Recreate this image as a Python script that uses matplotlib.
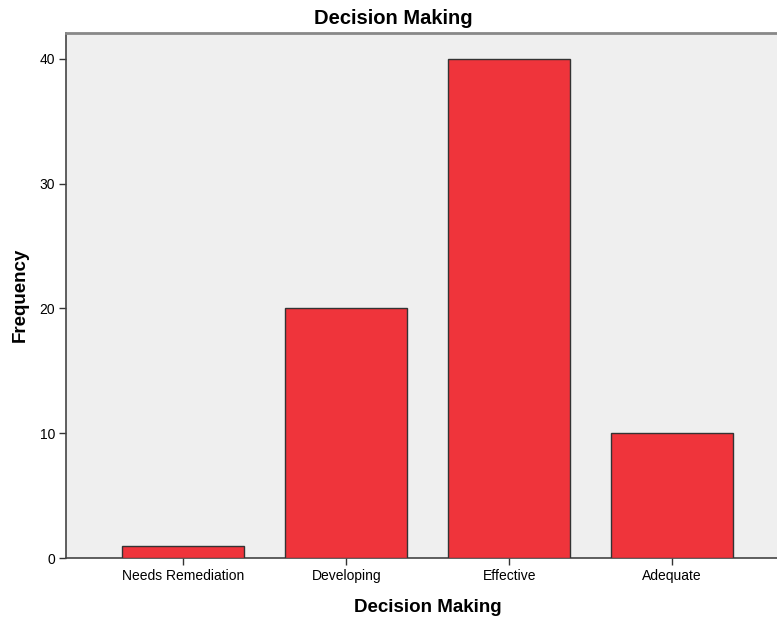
import matplotlib
matplotlib.use("Agg")
import matplotlib.pyplot as plt

categories = ["Needs Remediation", "Developing", "Effective", "Adequate"]
frequencies = [1, 20, 40, 10]
yticks = [0, 10, 20, 30, 40]

plt.rcParams['font.family'] = ['Liberation Sans', 'DejaVu Sans']

fig = plt.figure(figsize=(7.77, 6.2), dpi=100)
ax = fig.add_axes([66/777, 62/620, 1 - 66/777 + 0.002, (558-33)/620])
ax.set_facecolor('#EFEFEF')
x = list(range(len(categories)))
ax.bar(x, frequencies, width=0.75, color='#EF343B', edgecolor='#333333', linewidth=1.0, zorder=3)
ax.set_xlim(-0.719, 3.652)
ax.set_ylim(0, 42.08)
ax.set_xticks(x)
ax.set_xticklabels(categories, fontsize=10)
ax.set_yticks(yticks)
ax.set_yticklabels([str(v) for v in yticks], fontsize=10)
ax.tick_params(axis='both', direction='out', length=5, width=1, color='#333333', pad=3)
for s in ['left', 'bottom']:
    ax.spines[s].set_color('#444444')
    ax.spines[s].set_linewidth(1.2)
ax.spines['top'].set_color('#888888')
ax.spines['top'].set_linewidth(2)
ax.spines['right'].set_visible(False)
fig.text(393/777, 1 - 18.5/620, "Decision Making", fontsize=14.5, fontweight='bold',
         ha='center', va='center')
ax.set_xlabel("Decision Making", fontsize=13.5, fontweight='bold')
ax.xaxis.set_label_coords((427.5 - 66) / 711, (558 - 599) / 525)
ax.set_ylabel("Frequency", fontsize=13.5, fontweight='bold')
ax.yaxis.set_label_coords((29 - 66) / 711, (558 - 295) / 525)
fig.savefig("out.png", dpi=100)
